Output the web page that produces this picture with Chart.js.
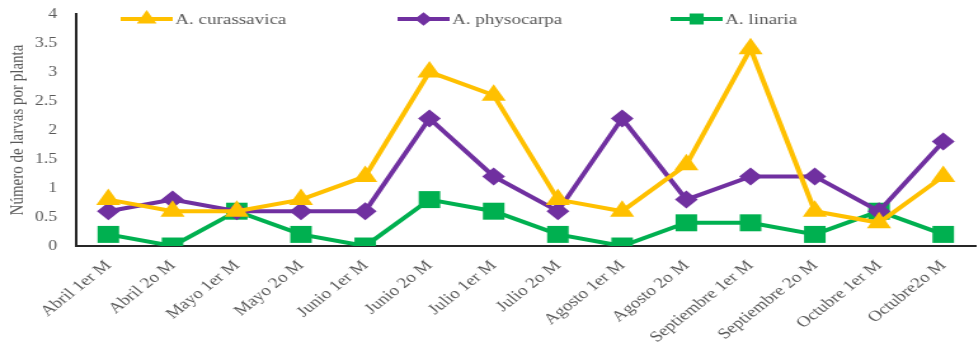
<!DOCTYPE html>
<html>
<head>
<meta charset="utf-8">
<script src="https://cdn.jsdelivr.net/npm/chart.js@4"></script>
<style>
  html, body { margin: 0; padding: 0; background: #fff; overflow: hidden; }
  #wrap { width: 977px; height: 345px; overflow: hidden; }
  /* the figure is drawn at a narrower width and widened horizontally */
  #c { transform: scaleX(1.27); transform-origin: 0 0; display: block; }
</style>
</head>
<body>
<div id="wrap"><canvas id="c" width="780" height="345"></canvas></div>
<script>
// Periods sampled (two per month)
const periods = [
  'Abril 1er M', 'Abril 2o M', 'Mayo 1er M', 'Mayo 2o M', 'Junio 1er M', 'Junio 2o M',
  'Julio 1er M', 'Julio 2o M', 'Agosto 1er M', 'Agosto 2o M', 'Septiembre 1er M',
  'Septiembre 2o M', 'Octubre 1er M', 'Octubre2o M'
];

// Larvae per plant for each milkweed species
const curassavica = [0.8, 0.6, 0.6, 0.8, 1.2, 3.0, 2.6, 0.8, 0.6, 1.4, 3.4, 0.6, 0.4, 1.2];
const physocarpa  = [0.6, 0.8, 0.6, 0.6, 0.6, 2.2, 1.2, 0.6, 2.2, 0.8, 1.2, 1.2, 0.6, 1.8];
const linaria     = [0.2, 0.0, 0.6, 0.2, 0.0, 0.8, 0.6, 0.2, 0.0, 0.4, 0.4, 0.2, 0.6, 0.2];

const yTicks = [0, 0.5, 1, 1.5, 2, 2.5, 3, 3.5, 4];

const YELLOW = '#FFC000';
const PURPLE = '#7030A0';
const GREEN = '#00B050';
const TEXT = '#595959';
const SERIF = "'Liberation Serif', 'DejaVu Serif', serif";

// Legend drawn across the top of the plot: a short line with the series marker
const lineLegend = {
  id: 'lineLegend',
  afterDraw(chart) {
    const ctx = chart.ctx;
    const starts = [95, 313, 528];
    const y = 19;
    chart.data.datasets.forEach((ds, i) => {
      const x0 = starts[i];
      const len = 41;
      ctx.save();
      ctx.strokeStyle = ds.borderColor;
      ctx.lineWidth = 4;
      ctx.beginPath();
      ctx.moveTo(x0, y);
      ctx.lineTo(x0 + len, y);
      ctx.stroke();
      Chart.helpers.drawPoint(ctx, {
        pointStyle: ds.pointStyle,
        radius: ds.legendMarker,
        borderWidth: 1
      }, x0 + len / 2, y);
      ctx.fillStyle = ds.borderColor;
      ctx.fill();
      ctx.fillStyle = TEXT;
      ctx.font = '15px ' + SERIF;
      ctx.textBaseline = 'middle';
      ctx.textAlign = 'left';
      ctx.fillText(ds.label, x0 + len + 2, y + 1);
      ctx.restore();
    });
  }
};

const mk = (label, data, color, style, radius, legendMarker) => ({
  label, data,
  borderColor: color,
  backgroundColor: color,
  borderWidth: 4,
  pointStyle: style,
  pointRadius: radius,
  pointHoverRadius: radius,
  pointBorderWidth: 0,
  pointBackgroundColor: color,
  legendMarker,
  tension: 0
});

new Chart(document.getElementById('c'), {
  type: 'line',
  data: {
    labels: periods,
    datasets: [
      mk('A. curassavica', curassavica, YELLOW, 'triangle', 11, 5),
      mk('A. physocarpa', physocarpa, PURPLE, 'rectRot', 9, 4),
      mk('A. linaria', linaria, GREEN, 'rect', 12, 5)
    ]
  },
  options: {
    responsive: false,
    animation: false,
    layout: { padding: { top: 14, right: 3, left: 0, bottom: 0 } },
    plugins: { legend: { display: false }, tooltip: { enabled: false } },
    scales: {
      x: {
        offset: true,
        grid: { display: false, tickLength: 0 },
        border: { display: true, color: '#262626', width: 2 },
        ticks: {
          color: TEXT,
          font: { family: SERIF, size: 15 },
          minRotation: 45,
          maxRotation: 45,
          padding: 11
        },
        afterFit(scale) {
          scale.height = 99;
          scale.paddingLeft = 0;
          scale.paddingRight = 0;
        }
      },
      y: {
        min: 0,
        max: 4,
        afterBuildTicks(scale) { scale.ticks = yTicks.map(v => ({ value: v })); },
        grid: { display: false, tickLength: 0 },
        border: { display: true, color: '#262626', width: 2 },
        ticks: {
          color: TEXT,
          font: { family: SERIF, size: 14 },
          padding: 15,
          callback: v => String(v)
        },
        title: {
          display: true,
          text: 'Número de larvas por planta',
          color: TEXT,
          font: { family: SERIF, size: 15 },
          padding: { top: 5, bottom: 0 }
        },
        afterFit(scale) {
          scale.width = 60;
          scale.paddingTop = 0;
          scale.paddingBottom = 0;
        }
      }
    }
  },
  plugins: [lineLegend]
});
</script>
</body>
</html>
